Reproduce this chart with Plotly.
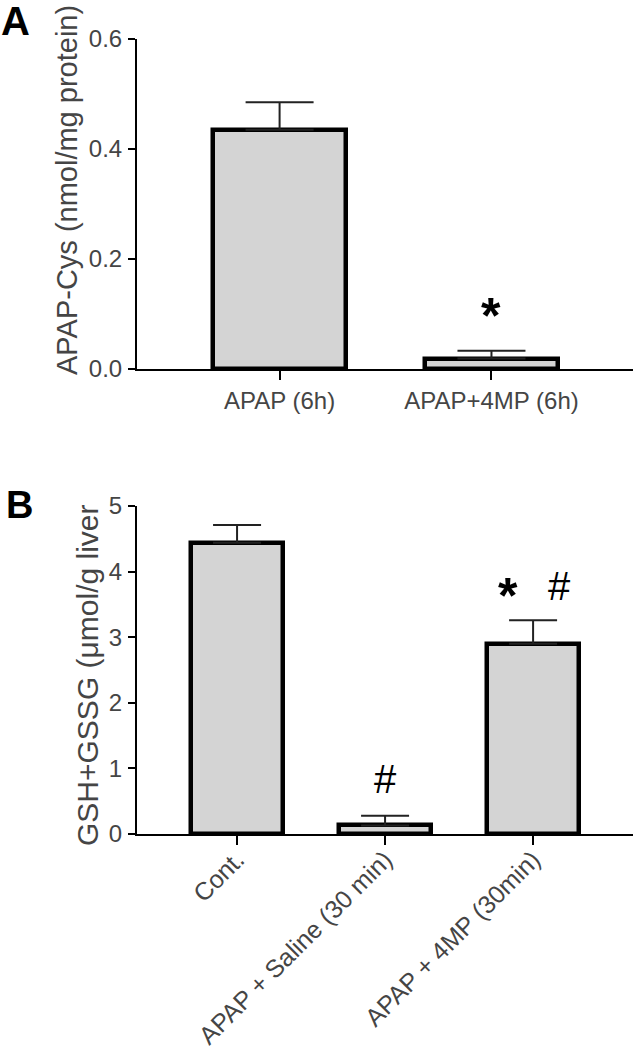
import plotly.graph_objects as go

# ---- Data ----
a_categories = ["APAP (6h)", "APAP+4MP (6h)"]
a_values = [0.435, 0.019]
a_errors = [0.050, 0.014]

b_categories = ["Cont.", "APAP + Saline (30 min)", "APAP + 4MP (30min)"]
b_values = [4.44, 0.13, 2.90]
b_errors = [0.27, 0.15, 0.36]

a_ticks = [0.0, 0.2, 0.4, 0.6]
a_ticktext = ["0.0", "0.2", "0.4", "0.6"]
b_ticks = [0, 1, 2, 3, 4, 5]

a_title = "APAP-Cys (nmol/mg protein)"
b_title = "GSH+GSSG (μmol/g liver"

W, H = 634, 1050
FONT = "Liberation Sans, Arial, sans-serif"
GRAY = "#454545"
BAR_FILL = "#d4d4d4"

def px_x(p):
    return p / W

def px_y(p):
    return 1 - p / H

fig = go.Figure()

fig.add_trace(go.Bar(
    x=list(range(len(a_categories))), y=a_values, width=0.63,
    marker=dict(color=BAR_FILL, line=dict(color="black", width=4.5)),
    error_y=dict(type="data", symmetric=False, array=a_errors,
                 arrayminus=[0] * len(a_errors), color="#222", thickness=2, width=34),
    xaxis="x", yaxis="y", showlegend=False))

fig.add_trace(go.Bar(
    x=list(range(len(b_categories))), y=b_values, width=0.62,
    marker=dict(color=BAR_FILL, line=dict(color="black", width=4.5)),
    error_y=dict(type="data", symmetric=False, array=b_errors,
                 arrayminus=[0] * len(b_errors), color="#222", thickness=2, width=24),
    xaxis="x2", yaxis="y2", showlegend=False))

axis_common = dict(showgrid=False, zeroline=False, showline=True, linecolor="black",
                   linewidth=2, ticks="outside", tickcolor="black", tickwidth=2,
                   automargin=False, fixedrange=True)

fig.update_layout(
    width=W, height=H, margin=dict(l=0, r=0, t=0, b=0),
    paper_bgcolor="white", plot_bgcolor="white", bargap=0,
    font=dict(family=FONT, color=GRAY),
    xaxis=dict(domain=[px_x(137), px_x(633)], range=[-0.673, 1.668],
               tickvals=list(range(len(a_categories))), ticktext=a_categories,
               ticklen=9, tickfont=dict(size=24, color=GRAY, family=FONT),
               anchor="y", **axis_common),
    yaxis=dict(domain=[px_y(369), px_y(39)], range=[0, 0.6],
               tickvals=a_ticks, ticktext=a_ticktext, ticklen=7,
               tickfont=dict(size=24, color=GRAY, family=FONT),
               anchor="x", ticklabelstandoff=1, **axis_common),
    xaxis2=dict(domain=[px_x(137), px_x(633)], range=[-0.676, 2.675],
                tickvals=list(range(len(b_categories))), ticktext=b_categories,
                tickangle=-45, ticklen=9, tickfont=dict(size=25, color=GRAY, family=FONT),
                anchor="y2", ticklabelstandoff=-10, **axis_common),
    yaxis2=dict(domain=[px_y(834), px_y(506)], range=[0, 5],
                tickvals=b_ticks, ticklen=7,
                tickfont=dict(size=24, color=GRAY, family=FONT),
                anchor="x2", ticklabelstandoff=1, **axis_common),
)

annotations = [
    dict(text="<b>A</b>", x=px_x(-1), y=px_y(-3), xref="paper", yref="paper",
         xanchor="left", yanchor="top", showarrow=False,
         font=dict(size=40, color="black", family=FONT)),
    dict(text="<b>B</b>", x=px_x(4), y=px_y(482), xref="paper", yref="paper",
         xanchor="left", yanchor="top", showarrow=False,
         font=dict(size=38, color="black", family=FONT)),
    dict(text=a_title, x=px_x(67), y=px_y(190), xref="paper", yref="paper",
         textangle=-90, showarrow=False, xanchor="center", yanchor="middle",
         font=dict(size=29, color=GRAY, family=FONT)),
    dict(text=b_title, x=px_x(87), y=px_y(675), xref="paper", yref="paper",
         textangle=-90, showarrow=False, xanchor="center", yanchor="middle",
         font=dict(size=30, color=GRAY, family=FONT)),
]

# significance markers (data coordinates)
STAR = 50
HASH = 40
annotations.append(dict(text="<b>*</b>", x=1, y=a_values[1] + a_errors[1] + 0.078,
                        xref="x", yref="y", showarrow=False, yshift=-8,
                        font=dict(size=STAR, color="black", family=FONT)))
annotations.append(dict(text="#", x=1, y=b_values[1] + b_errors[1] + 0.56,
                        xref="x2", yref="y2", showarrow=False,
                        font=dict(size=HASH, color="black", family=FONT)))
annotations.append(dict(text="<b>*</b>", x=1.83, y=b_values[2] + b_errors[2] + 0.49,
                        xref="x2", yref="y2", showarrow=False, yshift=-8,
                        font=dict(size=STAR, color="black", family=FONT)))
annotations.append(dict(text="#", x=2.18, y=b_values[2] + b_errors[2] + 0.52,
                        xref="x2", yref="y2", showarrow=False,
                        font=dict(size=HASH, color="black", family=FONT)))

fig.update_layout(annotations=annotations)

fig.write_html("out.html", config={"displayModeBar": False},
               post_script="document.body.style.margin='0';document.body.style.padding='0';"
                           "document.documentElement.style.overflow='hidden';")
